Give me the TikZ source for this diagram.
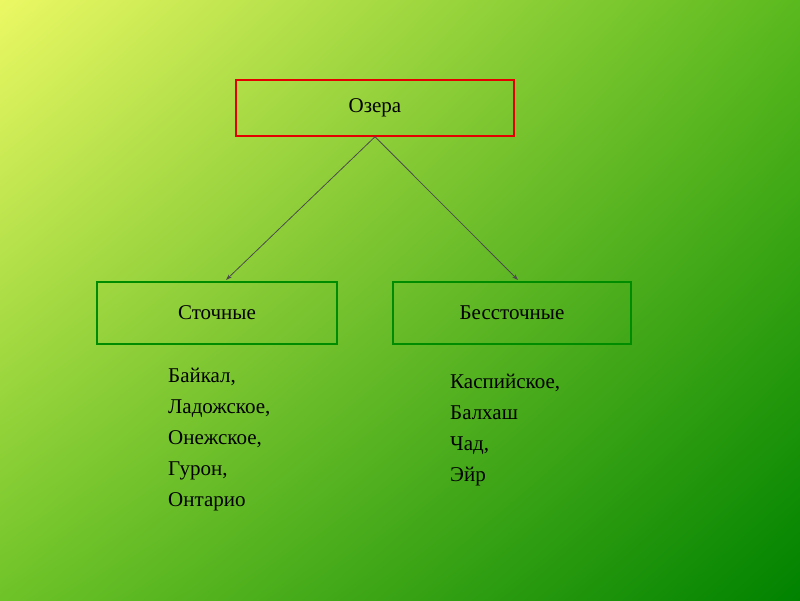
\documentclass[tikz,border=0pt]{standalone}
\usepackage{fontspec}
\setmainfont{Liberation Serif}
\usetikzlibrary{shadings,arrows.meta}
\begin{document}
\begin{tikzpicture}[x=1pt,y=-1pt,
  box/.style={draw=#1,line width=1.5pt,fill=none,inner sep=0pt},
  lst/.style={anchor=north west,align=left,font=\fontsize{21}{31}\selectfont,inner sep=0pt},
  arr/.style={draw=black!70,line width=0.8pt,-{Stealth[length=6pt,width=4pt]}}]
\definecolor{tl}{RGB}{235,248,100}
\definecolor{tr}{RGB}{90,185,30}
\definecolor{bl}{RGB}{110,195,40}
\definecolor{br}{RGB}{0,130,0}
\shade[upper left=tl,upper right=tr,lower left=bl,lower right=br] (0,0) rectangle (800,600);
\useasboundingbox (0,0) rectangle (800,600);
\node[box=red!90!black,minimum width=278pt,minimum height=56pt,font=\fontsize{21}{24}\selectfont] (o) at (375,108) {Озера};
\node[box=green!55!black,minimum width=240pt,minimum height=62pt,font=\fontsize{21}{24}\selectfont] (s) at (217,313) {Сточные};
\node[box=green!55!black,minimum width=238pt,minimum height=62pt,font=\fontsize{21}{24}\selectfont] (b) at (512,313) {Бессточные};
\coordinate (a1) at (226,280);
\coordinate (a2) at (518,280);
\draw[arr] (o.south) -- (a1);
\draw[arr] (o.south) -- (a2);
\node[lst] (l1) at (168,368) {Байкал,\\Ладожское,\\Онежское,\\Гурон,\\Онтарио};
\node[lst] (l2) at (450,374) {Каспийское,\\Балхаш\\Чад,\\Эйр};
\end{tikzpicture}
\end{document}
